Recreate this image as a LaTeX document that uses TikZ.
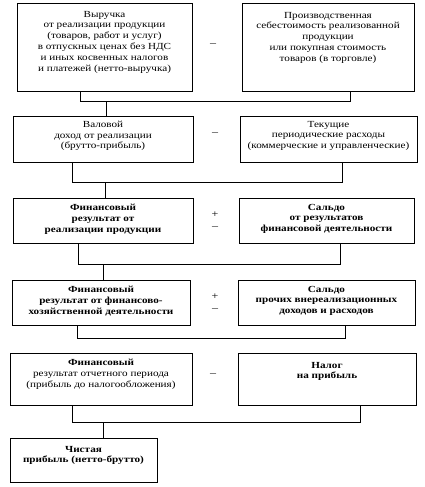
\documentclass[tikz,border=0pt]{standalone}
\usepackage{fontspec}
\setmainfont{Liberation Serif}[FakeStretch=1.2]
\usetikzlibrary{positioning}

\tikzset{
  box/.style={draw, line width=0.7pt, minimum width=#1, inner sep=0pt},
  txt/.style={align=center, inner sep=0pt, font=\fontsize{9.3}{10.8}\selectfont},
  btxt/.style={txt, font=\fontsize{9.3}{10.8}\selectfont\bfseries},
  sign/.style={inner sep=0pt, font=\fontsize{10}{10}\selectfont}
}

\begin{document}
\begin{tikzpicture}[x=1pt, y=-1pt, line width=0.7pt]
  \useasboundingbox (0,0) rectangle (425,487);
  % row 1
  \node[box=175pt, minimum height=88pt] (vyruchka) at (104.5,47) {};
  \node[box=172pt, minimum height=88pt] (sebest) at (328,47) {};
  \node[txt, below=8pt of vyruchka.north] (vyruchkaT) {Выручка\\от реализации продукции\\(товаров, работ и услуг)\\в отпускных ценах без НДС\\и иных косвенных налогов\\и платежей (нетто-выручка)};
  \node[txt, below=9pt of sebest.north] (sebestT) {Производственная\\себестоимость реализованной\\продукции\\или покупная стоимость\\товаров (в торговле)};
  \node[sign] (minus1) at (213,45) {--};
  % row 2
  \node[box=180pt, minimum height=46pt] (valovoj) at (103,139) {};
  \node[box=177pt, minimum height=46pt] (tekush) at (328.5,139) {};
  \node[txt, below=5pt of valovoj.north] (valovojT) {Валовой\\доход от реализации\\(брутто-прибыль)};
  \node[txt, below=5pt of tekush.north] (tekushT) {Текущие\\периодические расходы\\(коммерческие и управленческие)};
  \node[sign] (minus2) at (215,134) {--};
  % row 3
  \node[box=180pt, minimum height=45pt] (finrez) at (103,220.5) {};
  \node[box=175pt, minimum height=45pt] (saldo) at (326.5,220.5) {};
  \node[btxt, below=6pt of finrez.north] (finrezT) {Финансовый\\результат от\\реализации продукции};
  \node[btxt, below=6pt of saldo.north] (saldoT) {Сальдо\\от результатов\\финансовой деятельности};
  \node[sign] (plus3) at (215,215) {+};
  \node[sign] (minus3) at (215,228) {--};
  % row 4
  \node[box=178pt, minimum height=45pt] (finhoz) at (101,302.5) {};
  \node[box=177pt, minimum height=45pt] (prochie) at (326.5,302.5) {};
  \node[btxt, below=6pt of finhoz.north] (finhozT) {Финансовый\\результат от финансово-\\хозяйственной деятельности};
  \node[btxt, below=6pt of prochie.north] (prochieT) {Сальдо\\прочих внереализационных\\доходов и расходов};
  \node[sign] (plus4) at (215,297) {+};
  \node[sign] (minus4) at (215,310) {--};
  % row 5
  \node[box=182pt, minimum height=52pt] (otchet) at (101,379) {};
  \node[box=178pt, minimum height=52pt] (nalog) at (327,379) {};
  \node[txt, below=6pt of otchet.north] (otchetT) {\textbf{Финансовый}\\результат отчетного периода\\(прибыль до налогообложения)};
  \node[btxt, below=9pt of nalog.north] (nalogT) {Налог\\на прибыль};
  \node[sign] (minus5) at (213,375) {--};
  % row 6
  \node[box=147pt, minimum height=44pt] (chistaya) at (83.5,460) {};
  \node[btxt, below=8pt of chistaya.north] (chistayaT) {Чистая\\прибыль (нетто-брутто)};
  % brackets
  \coordinate (b1l) at (80,101);  \coordinate (b1r) at (350,101); \coordinate (b1s) at (106,101);
  \coordinate (b2l) at (72,182);  \coordinate (b2r) at (342,182); \coordinate (b2s) at (105,182);
  \coordinate (b3l) at (78,264);  \coordinate (b3r) at (340,264); \coordinate (b3s) at (103,264);
  \coordinate (b4l) at (77,338);  \coordinate (b4r) at (345,338);
  \coordinate (b5l) at (72,422);  \coordinate (b5r) at (360,422); \coordinate (b5s) at (103,422);
  \draw (vyruchka.south -| b1l) -- (b1l) -- (b1r) -- (sebest.south -| b1r);
  \draw (b1s) -- (valovoj.north -| b1s);
  \draw (valovoj.south -| b2l) -- (b2l) -- (b2r) -- (tekush.south -| b2r);
  \draw (b2s) -- (finrez.north -| b2s);
  \draw (finrez.south -| b3l) -- (b3l) -- (b3r) -- (saldo.south -| b3r);
  \draw (b3s) -- (finhoz.north -| b3s);
  \draw (finhoz.south -| b4l) -- (b4l) -- (b4r) -- (prochie.south -| b4r);
  \draw (otchet.south -| b5l) -- (b5l) -- (b5r) -- (nalog.south -| b5r);
  \draw (b5s) -- (chistaya.north -| b5s);
\end{tikzpicture}
\end{document}
